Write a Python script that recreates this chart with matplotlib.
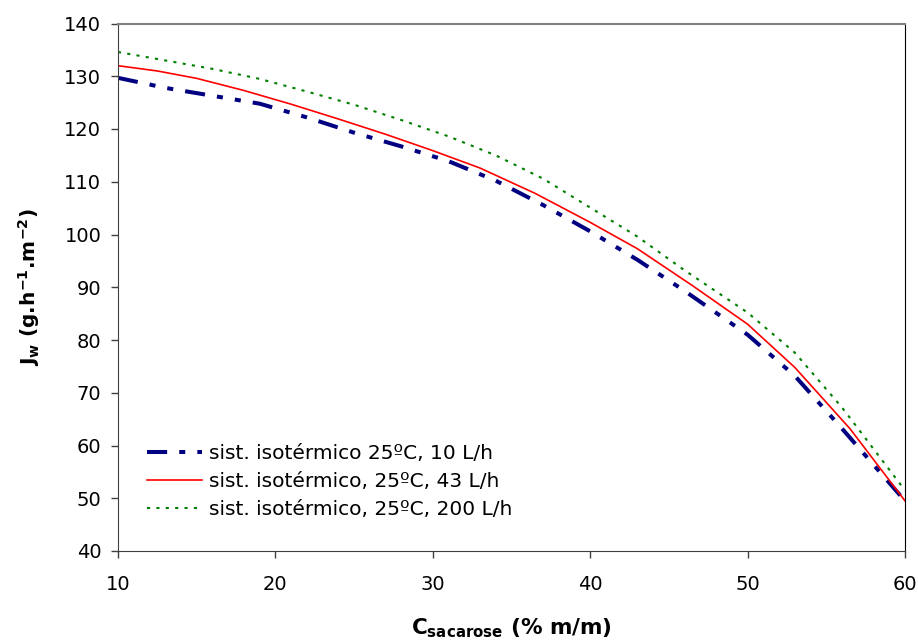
import numpy as np
import matplotlib.pyplot as plt

plt.rcParams['font.family'] = ['DejaVu Sans']
plt.rcParams['mathtext.fontset'] = 'dejavusans'

# data
x_10 = [10, 13, 16, 19, 22, 25, 28, 31, 34, 37, 40, 43, 46, 50, 53, 56, 60]
jw_10 = [129.7, 127.8, 126.3, 124.8, 122.2, 119.3, 116.7, 113.9, 110.2, 105.6, 100.6, 95.2, 89.3, 81.0, 73.2, 63.2, 49.5]

x_43 = [10, 12.5, 15, 18, 21, 24, 27, 30, 33, 36.5, 40, 43, 46.5, 50, 53, 56.5, 60]
jw_43 = [132.0, 131.0, 129.6, 127.3, 124.7, 121.9, 119.0, 115.9, 112.6, 107.8, 102.3, 97.3, 90.3, 83.0, 74.8, 63.2, 49.5]

x_200 = [10, 13, 16, 19, 22, 25, 28, 31, 34, 37, 40, 43, 46, 50, 53, 56, 60]
jw_200 = [134.6, 133.0, 131.4, 129.5, 127.1, 124.6, 121.7, 118.6, 115.0, 110.6, 105.1, 99.6, 93.2, 85.2, 77.6, 67.2, 51.5]

labels = ['sist. isotérmico 25ºC, 10 L/h',
          'sist. isotérmico, 25ºC, 43 L/h',
          'sist. isotérmico, 25ºC, 200 L/h']

fig = plt.figure(figsize=(9.18, 6.41), dpi=100)
ax = fig.add_axes([118/918, 1 - 551/641, (905-118)/918, (551-23.5)/641])

ax.plot(x_10, jw_10, color='#000080', lw=2.9, dashes=(5, 3, 1.5, 3, 1.5, 3), label=labels[0])
ax.plot(x_43, jw_43, color='#ff0000', lw=1.2, label=labels[1])
ax.plot(x_200, jw_200, color='#008000', lw=1.5, dashes=(1.5, 3), label=labels[2])

ax.set_xlim(10, 60)
ax.set_ylim(40, 140)
ax.set_xticks(np.arange(10, 61, 10))
ax.set_yticks(np.arange(40, 141, 10))
ax.tick_params(direction='out', length=5, labelsize=14, width=1, color='#404040')
ax.tick_params(axis='x', pad=12)
ax.tick_params(axis='y', pad=7)
ax.spines['top'].set_color('#808080')
ax.spines['top'].set_linewidth(1.5)
ax.spines['left'].set_color('#404040')
ax.spines['bottom'].set_color('#404040')
ax.spines['right'].set_color('black')

ax.set_xlabel(r'$\mathbf{C_{sacarose}}$ (% m/m)', fontsize=15.5, fontweight='bold')
ax.set_ylabel(r'$\mathbf{J_w}$ (g.h$^{\mathbf{-1}}$.m$^{\mathbf{-2}}$)', fontsize=14.5, fontweight='bold')
ax.xaxis.set_label_coords(0.5, -0.124)
ax.yaxis.set_label_coords(-0.097, 0.5)

leg = ax.legend(loc='lower left', bbox_to_anchor=(0.014, 0.026), frameon=False, fontsize=14.5,
                handlelength=2.7, handletextpad=0.35, labelspacing=0.45)

fig.savefig('out.png', dpi=100)
